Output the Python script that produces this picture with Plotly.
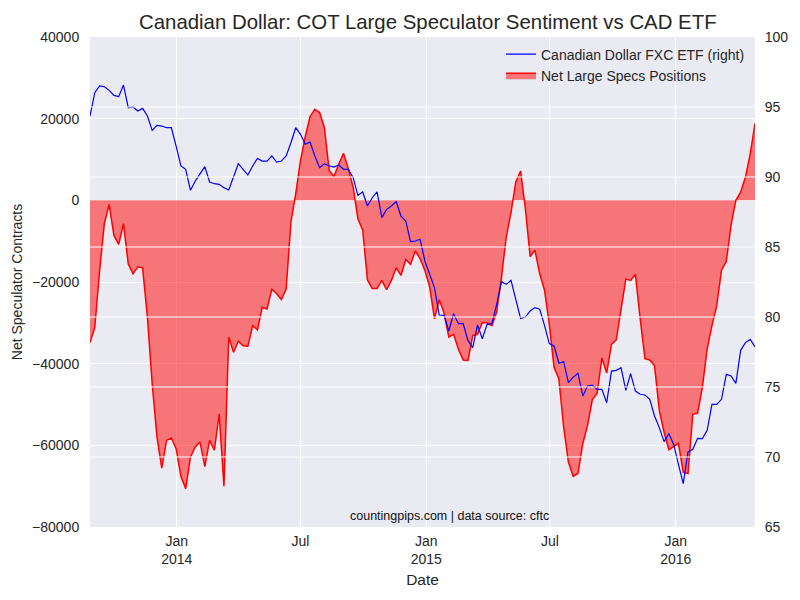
import pandas as pd
import plotly.graph_objects as go

# Weekly COT report dates (Tuesdays)
dates = pd.date_range("2013-08-27", periods=140, freq="7D")

net_specs = [
    -34800, -31100, -17300, -5700, -1000, -8600, -10800, -5700, -15600, -18000,
    -16300, -16600, -28600, -44900, -58000, -65600, -58800, -58200, -60800, -67600,
    -70600, -62900, -60400, -59200, -65200, -58800, -61200, -52300, -70000, -33500,
    -37200, -34500, -35600, -35700, -30700, -31700, -26200, -26600, -21800, -22800,
    -24300, -21700, -5300, 1600, 9800, 15650, 20540, 22320, 21500, 17800,
    7300, 5840, 8900, 11500, 7700, 3250, -4500, -7300, -19500, -21600,
    -21600, -19600, -21900, -19600, -16500, -18400, -14500, -15700, -12400, -14300,
    -17200, -21200, -29000, -24300, -27600, -33500, -32800, -36400, -39100, -39200,
    -33100, -32800, -29900, -30000, -30700, -27400, -19000, -9000, -3000, 4500,
    7200, -2000, -13800, -12200, -18000, -22000, -30300, -40900, -43700, -55500,
    -64100, -67600, -66900, -59600, -55100, -48800, -47300, -38600, -42300, -35300,
    -34200, -26600, -19300, -19600, -18100, -29000, -38800, -39100, -40500, -51500,
    -56800, -61100, -60400, -59500, -66600, -66900, -52400, -52100, -45800, -36400,
    -30700, -25800, -17100, -15000, -6000, 0, 2000, 5700, 11400, 18800,
]

fxc_etf = [
    94.36, 96.02, 96.5, 96.45, 96.19, 95.83, 95.74, 96.57, 94.95, 95.0,
    94.71, 94.9, 94.36, 93.33, 93.69, 93.64, 93.52, 93.52, 92.21, 90.79,
    90.55, 89.05, 89.71, 90.24, 90.74, 89.64, 89.52, 89.48, 89.24, 89.07,
    90.02, 90.95, 90.55, 90.14, 90.79, 91.33, 91.14, 91.14, 91.5, 91.07,
    91.14, 91.5, 92.45, 93.52, 93.05, 92.34, 92.5, 91.5, 90.67, 90.95,
    90.79, 90.71, 90.86, 90.55, 90.55, 89.95, 88.69, 88.93, 87.93, 88.52,
    88.93, 87.1, 87.69, 87.93, 88.24, 87.21, 86.86, 85.38, 85.43, 85.55,
    84.0, 83.0, 82.1, 80.14, 80.12, 79.0, 80.24, 79.52, 79.52, 78.33,
    77.81, 79.43, 78.45, 79.48, 79.52, 80.9, 82.52, 82.33, 82.62, 81.26,
    79.9, 80.0, 80.43, 80.67, 80.55, 79.4, 78.1, 77.93, 76.7, 76.81,
    75.31, 75.71, 75.98, 74.36, 75.07, 75.14, 74.83, 74.83, 73.88, 76.14,
    76.19, 76.38, 74.76, 75.95, 74.71, 74.48, 74.43, 74.12, 72.93, 72.1,
    71.1, 71.67, 70.9, 69.48, 68.1, 70.36, 70.55, 71.33, 71.31, 71.9,
    73.76, 73.76, 74.12, 75.9, 75.79, 75.26, 77.62, 78.17, 78.4, 77.86,
]

x_tick_dates = ["2014-01-01", "2014-07-01", "2015-01-01", "2015-07-01", "2016-01-01"]
x_tick_text = ["Jan<br>2014", "Jul", "Jan<br>2015", "Jul", "Jan<br>2016"]
left_ticks = [-80000, -60000, -40000, -20000, 0, 20000, 40000]
right_ticks = [65, 70, 75, 80, 85, 90, 95, 100]

left_text = [str(v).replace("-", "\u2212") for v in left_ticks]
right_text = [str(v) for v in right_ticks]

FONT = "Liberation Sans, Arial, sans-serif"
TXT = "#262626"
BG = "#EAEAF2"

fig = go.Figure()
fig.add_trace(go.Scatter(
    x=dates, y=fxc_etf, name="Canadian Dollar FXC ETF (right)",
    mode="lines", line=dict(color="#0000FF", width=1.2), yaxis="y2",
))
fig.add_trace(go.Scatter(
    x=dates, y=net_specs, name="Net Large Specs Positions",
    mode="lines", line=dict(color="#FF0000", width=1.5),
    fill="tozeroy", fillcolor="rgba(255,0,0,0.5)", yaxis="y",
))

# right-axis gridlines drawn on top (like a matplotlib twin axis)
for v in right_ticks[1:-1]:
    fig.add_shape(type="line", xref="paper", x0=0, x1=1, yref="y2", y0=v, y1=v,
                  line=dict(color="white", width=1), layer="above")

fig.update_layout(
    width=800, height=600,
    margin=dict(l=90, r=45, t=37, b=73, autoexpand=False),
    paper_bgcolor="white", plot_bgcolor=BG,
    font=dict(family=FONT, size=14, color=TXT),
    title=dict(text="Canadian Dollar: COT Large Speculator Sentiment vs CAD ETF",
               x=0.508, xref="paper", xanchor="center", y=1 - 22 / 600, yref="container",
               yanchor="middle", automargin=False,
               font=dict(size=20.4, color=TXT)),
    xaxis=dict(
        range=[dates[0], dates[-1]], tickvals=x_tick_dates, ticktext=x_tick_text,
        showgrid=True, gridcolor="white", gridwidth=1, zeroline=False,
        ticks="outside", ticklen=1, tickcolor="rgba(0,0,0,0)",
        tickfont=dict(size=14, color=TXT), automargin=False,
        title=dict(text="Date", font=dict(size=15.5, color=TXT), standoff=8),
        showline=False,
    ),
    yaxis=dict(
        range=[-80000, 40000], tickvals=left_ticks, ticktext=left_text,
        showgrid=True, gridcolor="white", gridwidth=1, zeroline=False,
        ticks="outside", ticklen=7, tickcolor="rgba(0,0,0,0)",
        tickfont=dict(size=14, color=TXT), automargin=False,
        title=dict(text="Net Speculator Contracts", font=dict(size=14, color=TXT), standoff=6),
        showline=False,
    ),
    yaxis2=dict(
        range=[65, 100], tickvals=right_ticks, ticktext=right_text,
        overlaying="y", side="right",
        showgrid=False, zeroline=False, automargin=False,
        ticks="outside", ticklen=6, tickcolor="rgba(0,0,0,0)",
        tickfont=dict(size=14, color=TXT), showline=False,
    ),
    legend=dict(x=0.9925, xanchor="right", y=0.997, yanchor="top",
                bgcolor="rgba(0,0,0,0)", font=dict(size=14, color=TXT),
                tracegroupgap=0),
    showlegend=True,
    annotations=[dict(text="countingpips.com | data source: cftc",
                      xref="paper", yref="paper", x=0.54, y=0.022,
                      xanchor="center", yanchor="middle", showarrow=False,
                      font=dict(size=12.5, color="#111111"))],
)

fig.write_html("out.html", config={"displayModeBar": False},
               post_script="document.body.style.margin='0';")
